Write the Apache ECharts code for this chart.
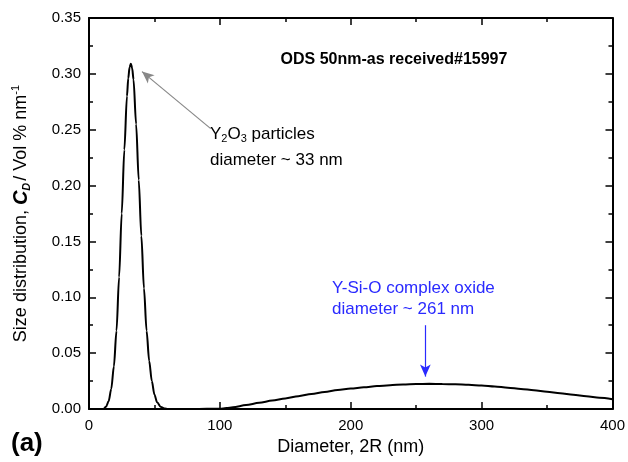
<!DOCTYPE html>
<html>
<head>
<meta charset="utf-8">
<script src="https://cdn.jsdelivr.net/npm/echarts@6/dist/echarts.min.js"></script>
<style>html,body{margin:0;padding:0;background:#fff}#c{width:628px;height:462px}</style>
</head>
<body>
<div id="c"></div>
<script>
// Data
const diameter = [0, 11, 13, 15, 17, 19, 21, 23, 25, 27, 29, 30, 31, 32, 33, 34, 36, 38, 40, 42, 44, 46, 48, 50, 52, 55, 58, 60, 80, 100, 105, 110, 120, 130, 140, 150, 160, 170, 180, 190, 200, 210, 220, 230, 240, 250, 260, 270, 280, 290, 300, 310, 320, 330, 340, 350, 360, 370, 380, 390, 400];
const sizeDist = [0, 0, 0.002, 0.007, 0.018, 0.038, 0.07, 0.118, 0.175, 0.232, 0.28, 0.296, 0.306, 0.309, 0.305, 0.295, 0.255, 0.205, 0.155, 0.108, 0.07, 0.043, 0.025, 0.013, 0.006, 0.0018, 0.0004, 0, 0, 0.0003, 0.0008, 0.0015, 0.0035, 0.0055, 0.0075, 0.0095, 0.0115, 0.0135, 0.0153, 0.017, 0.0183, 0.0195, 0.0205, 0.0213, 0.0219, 0.0223, 0.0225, 0.0224, 0.0221, 0.0216, 0.021, 0.0201, 0.0191, 0.018, 0.0168, 0.0155, 0.0142, 0.0128, 0.0114, 0.01, 0.0087];
const xTicks = [0, 100, 200, 300, 400];
const yTicks = [0, 0.05, 0.1, 0.15, 0.2, 0.25, 0.3, 0.35];
const chartTitle = 'ODS 50nm-as received#15997';
const xName = 'Diameter, 2R (nm)';
const arrowY2O3 = [[93, 0.251], [40.5, 0.302]];
const arrowYSiO = [[257, 0.075], [257, 0.029]];

const FONT = '"Liberation Sans", Arial, sans-serif';
const points = diameter.map((d, i) => [d, sizeDist[i]]);

const chart = echarts.init(document.getElementById('c'), null, {renderer: 'canvas'});

const axisCommon = {
  axisLine: {show: true, onZero: false, lineStyle: {color: '#000', width: 2}},
  axisTick: {show: true, inside: true, length: 7, lineStyle: {color: '#000', width: 1.5}},
  minorTick: {show: true, splitNumber: 2, length: 4, lineStyle: {color: '#000', width: 1.5}},
  splitLine: {show: false},
  minorSplitLine: {show: false}
};

chart.setOption({
  animation: false,
  backgroundColor: '#fff',
  grid: {left: 89, right: 14, top: 18, bottom: 53, containLabel: false},
  xAxis: [
    Object.assign({
      type: 'value', min: xTicks[0], max: xTicks[xTicks.length - 1], interval: 100,
      position: 'bottom',
      name: xName, nameLocation: 'middle', nameGap: 23,
      nameTextStyle: {fontFamily: FONT, fontSize: 18, color: '#000'},
      axisLabel: {show: true, margin: 9, fontFamily: FONT, fontSize: 15, color: '#000'}
    }, axisCommon),
    Object.assign({
      type: 'value', min: xTicks[0], max: xTicks[xTicks.length - 1], interval: 100,
      position: 'top', axisLabel: {show: false}
    }, axisCommon)
  ],
  yAxis: [
    Object.assign({
      type: 'value', min: yTicks[0], max: yTicks[yTicks.length - 1], interval: 0.05,
      position: 'left',
      name: '{n|Size distribution, }{c|C}{d|D}{n|/ Vol % nm}{s|-1}',
      nameLocation: 'middle', nameGap: 57, nameRotate: 90,
      nameTextStyle: {
        fontFamily: FONT, fontSize: 18, color: '#000',
        rich: {
          n: {fontFamily: FONT, fontSize: 18, color: '#000', lineHeight: 22},
          c: {fontFamily: FONT, fontSize: 20, fontWeight: 'bold', fontStyle: 'italic', color: '#000', lineHeight: 22},
          d: {fontFamily: FONT, fontSize: 11, fontWeight: 'bold', fontStyle: 'italic', color: '#000', lineHeight: 11, verticalAlign: 'bottom', padding: [0, 2, 0, 0]},
          s: {fontFamily: FONT, fontSize: 11, color: '#000', lineHeight: 11, verticalAlign: 'top'}
        }
      },
      axisLabel: {show: true, margin: 8, fontFamily: FONT, fontSize: 15, color: '#000',
        formatter: v => v.toFixed(2)}
    }, axisCommon),
    Object.assign({
      type: 'value', min: yTicks[0], max: yTicks[yTicks.length - 1], interval: 0.05,
      position: 'right', axisLabel: {show: false}
    }, axisCommon)
  ],
  series: [{
    type: 'line',
    data: points,
    showSymbol: false,
    smooth: 0.3,
    smoothMonotone: 'x',
    lineStyle: {color: '#000', width: 2},
    markLine: {
      silent: true,
      symbol: ['none', 'arrow'],
      symbolSize: [8, 12],
      label: {show: false},
      data: [
        [{coord: arrowY2O3[0], lineStyle: {color: '#888', width: 1.2, type: 'solid'}}, {coord: arrowY2O3[1]}],
        [{coord: arrowYSiO[0], lineStyle: {color: '#2a2aff', width: 1.2, type: 'solid'}}, {coord: arrowYSiO[1]}]
      ]
    }
  }],
  graphic: [
    {type: 'text', style: {text: chartTitle, x: 394, y: 60, align: 'center', verticalAlign: 'middle',
      font: 'bold 16px ' + FONT, fill: '#000'}},
    {type: 'text', style: {x: 210, y: 134, verticalAlign: 'middle', fill: '#000',
      text: '{a|Y}{b|2}{a|O}{b|3}{a| particles}',
      rich: {
        a: {fontFamily: FONT, fontSize: 17, color: '#000', lineHeight: 20},
        b: {fontFamily: FONT, fontSize: 11, color: '#000', lineHeight: 11, verticalAlign: 'bottom'}
      }}},
    {type: 'text', style: {x: 210, y: 160, verticalAlign: 'middle', text: 'diameter ~ 33 nm',
      font: '17px ' + FONT, fill: '#000'}},
    {type: 'text', style: {x: 332, y: 288, verticalAlign: 'middle', text: 'Y-Si-O complex oxide',
      font: '17px ' + FONT, fill: '#2a2aff'}},
    {type: 'text', style: {x: 332, y: 309, verticalAlign: 'middle', text: 'diameter ~ 261 nm',
      font: '17px ' + FONT, fill: '#2a2aff'}},
    {type: 'text', style: {x: 11, y: 444, verticalAlign: 'middle', text: '(a)',
      font: 'bold 26px ' + FONT, fill: '#000'}}
  ]
});
</script>
</body>
</html>
